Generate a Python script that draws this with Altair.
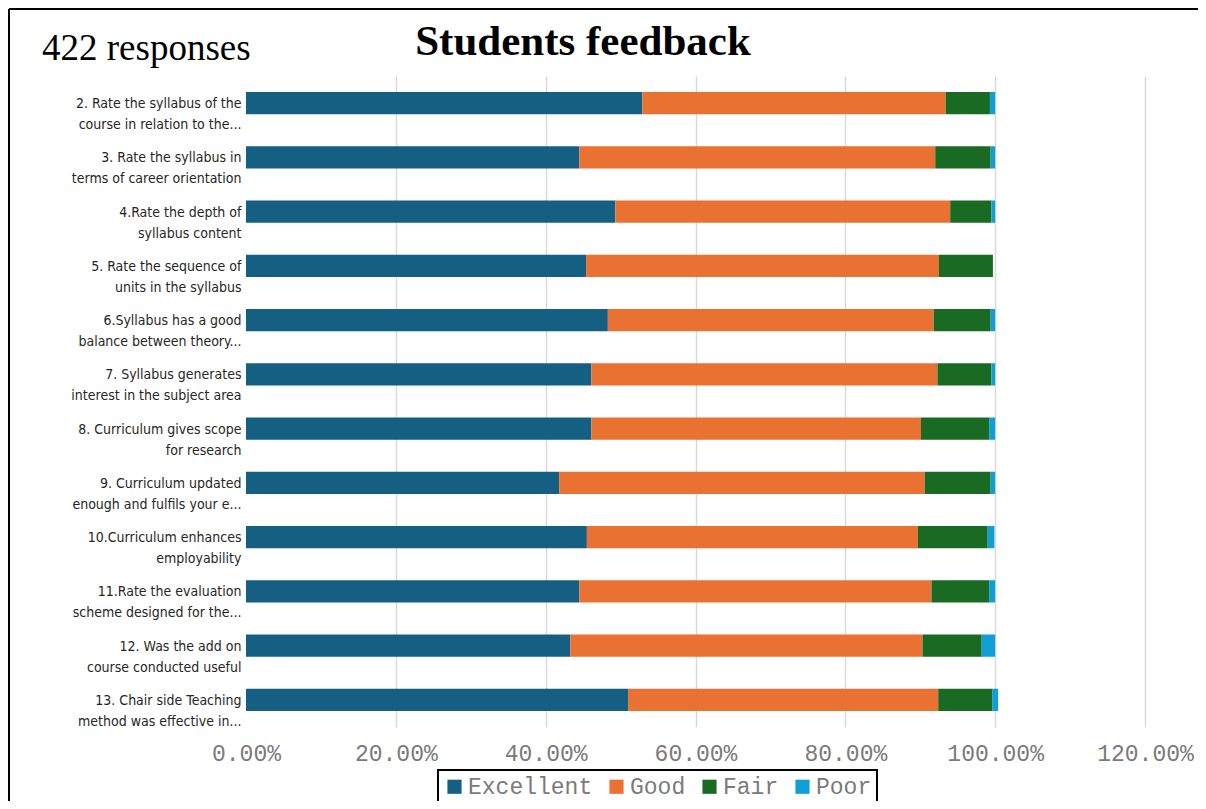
import altair as alt
import pandas as pd

# ---------------- data ----------------
n_responses = 422
chart_title = "Students feedback"

questions = [
    "2.  Rate the syllabus of the|course in relation to the...",
    "3. Rate the syllabus in|terms of career orientation",
    "4.Rate the depth of|syllabus content",
    "5. Rate the sequence of|units in the syllabus",
    "6.Syllabus has a good|balance between theory...",
    "7. Syllabus generates|interest in the subject area",
    "8. Curriculum gives scope|for research",
    "9. Curriculum updated|enough and fulfils your e...",
    "10.Curriculum enhances|employability",
    "11.Rate the evaluation|scheme designed for the...",
    "12.  Was the add on|course conducted  useful",
    "13. Chair side Teaching|method was  effective in...",
]

ratings = ["Excellent", "Good", "Fair", "Poor"]
colors = ["#156082", "#E97132", "#196B24", "#0F9ED5"]

excellent = [52.9, 44.5, 49.3, 45.4, 48.3, 46.1, 46.1, 41.8, 45.5, 44.5, 43.3, 51.0]
good      = [40.5, 47.5, 44.7, 47.1, 43.5, 46.2, 44.0, 48.8, 44.2, 47.0, 47.0, 41.4]
fair      = [5.9, 7.4, 5.5, 7.2, 7.6, 7.2, 9.1, 8.8, 9.3, 7.7, 7.9, 7.2]
poor      = [0.7, 0.6, 0.5, 0.0, 0.6, 0.5, 0.8, 0.6, 0.9, 0.8, 1.8, 0.8]

x_ticks = [0.0, 0.2, 0.4, 0.6, 0.8, 1.0, 1.2]

# ---------------- table ----------------
rows = []
for series, vals in zip(ratings, [excellent, good, fair, poor]):
    for q, v in zip(questions, vals):
        rows.append({"question": q, "rating": series, "share": v / 100.0,
                     "order": ratings.index(series)})
df = pd.DataFrame(rows)

W, H = 899, 651
PAD = {"left": 238, "top": 68, "right": 53, "bottom": 74}

bars = alt.Chart(df).mark_bar().encode(
    x=alt.X("share:Q", stack="zero",
            scale=alt.Scale(domain=[0, 1.2], nice=False),
            axis=alt.Axis(values=x_ticks, format=".2%", title=None,
                          domain=False, ticks=False,
                          labelFont="Liberation Mono", labelFontSize=23,
                          labelColor="#7a7a7a", labelPadding=15,
                          labelFlush=False, labelOverlap=False,
                          grid=True, gridWidth=1.5,
                          gridColor={"condition": {"test": "datum.value === 0",
                                                   "value": "transparent"},
                                     "value": "#d9d9d9"})),
    y=alt.Y("question:N", sort=questions,
            scale=alt.Scale(paddingInner=0.59, paddingOuter=0.295),
            axis=alt.Axis(title=None, domain=False, ticks=False,
                          labelExpr="split(datum.label, '|')",
                          labelFont="Liberation Sans Narrow, Arial Narrow, DejaVu Sans Condensed, sans-serif",
                          labelFontSize=14, labelLineHeight=21,
                          labelColor="#262626", labelPadding=5,
                          labelLimit=0, labelOffset=1)),
    color=alt.Color("rating:N", sort=ratings,
                    scale=alt.Scale(domain=ratings, range=colors),
                    legend=alt.Legend(title=None, orient="none",
                                      legendX=192, legendY=694,
                                      direction="horizontal",
                                      symbolType="square", symbolSize=200,
                                      symbolStrokeWidth=0,
                                      labelFont="Liberation Mono",
                                      labelFontSize=23, labelColor="#7a7a7a",
                                      labelOffset=2, columnPadding=12,
                                      padding=5, strokeColor="black")),
    order=alt.Order("order:Q"),
)

resp = alt.Chart(pd.DataFrame({"t": [f"{n_responses} responses"]})).mark_text(
    font="Liberation Serif", fontSize=37, color="black",
    align="left", baseline="alphabetic",
).encode(text="t:N", x=alt.value(-204), y=alt.value(-16))

ttl = alt.Chart(pd.DataFrame({"t": [chart_title]})).mark_text(
    font="Liberation Serif", fontSize=43, fontWeight="bold", color="black",
    align="center", baseline="alphabetic",
).encode(text="t:N", x=alt.value(337), y=alt.value(-21))

frame_left = alt.Chart(pd.DataFrame({"k": [0]})).mark_rule(
    color="black", strokeWidth=2).encode(
    x=alt.value(-237), y=alt.value(-67), y2=alt.value(H + PAD["bottom"]))
frame_top = alt.Chart(pd.DataFrame({"k": [0]})).mark_rule(
    color="black", strokeWidth=2).encode(
    x=alt.value(-237), x2=alt.value(W + PAD["right"]), y=alt.value(-67))

chart = alt.layer(bars, resp, ttl, frame_left, frame_top).properties(
    width=W, height=H,
    autosize=alt.AutoSizeParams(type="none"),
    padding=PAD,
).configure_view(stroke=None).configure_legend(strokeWidth=2)

chart.save("out.html", embed_options={"renderer": "svg", "actions": False})
